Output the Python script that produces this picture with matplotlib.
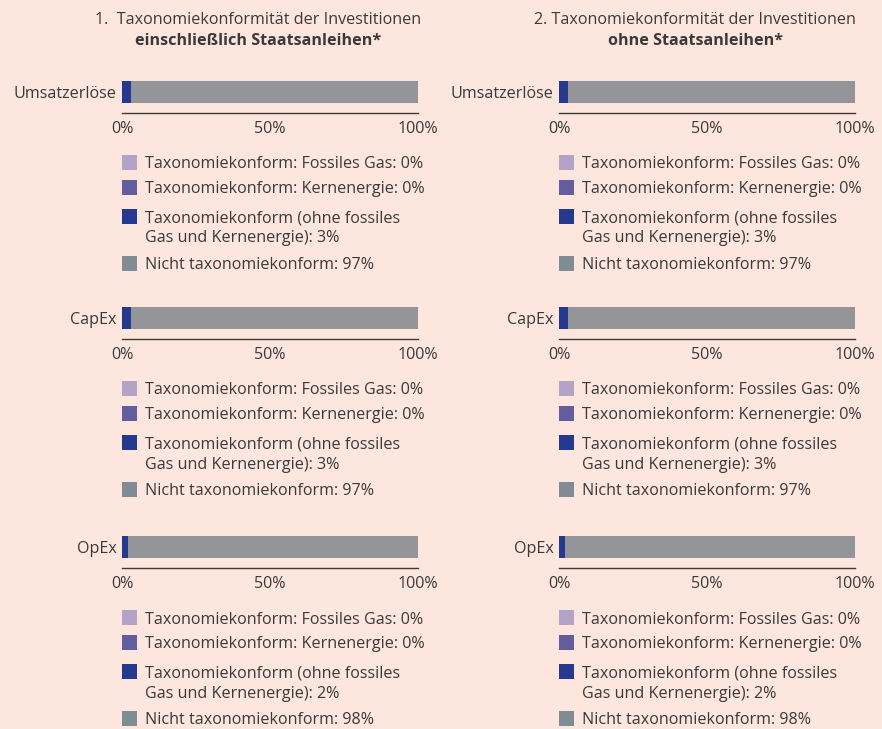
import matplotlib
matplotlib.use("Agg")
from matplotlib import pyplot as plt
from matplotlib.patches import Rectangle

plt.rcParams['font.family'] = ['Open Sans', 'DejaVu Sans']

# Daten
kategorien = ["Umsatzerlöse", "CapEx", "OpEx"]
legende_namen = ["Taxonomiekonform: Fossiles Gas",
                 "Taxonomiekonform: Kernenergie",
                 "Taxonomiekonform (ohne fossiles\nGas und Kernenergie)",
                 "Nicht taxonomiekonform"]
# Werte je Panel: [Fossiles Gas, Kernenergie, ohne Gas/Kern, nicht konform]
werte_mit = [[0, 0, 3, 97], [0, 0, 3, 97], [0, 0, 2, 98]]
werte_ohne = [[0, 0, 3, 97], [0, 0, 3, 97], [0, 0, 2, 98]]
titel_1 = ["1.  Taxonomiekonformität der Investitionen", "einschließlich Staatsanleihen*"]
titel_2 = ["2. Taxonomiekonformität der Investitionen", "ohne Staatsanleihen*"]
x_ticks = [0, 50, 100]

farben_bar = ["#b3a3c6", "#625e9e", "#253a8e", "#939598"]
farben_leg = ["#b3a3c6", "#625e9e", "#253a8e", "#7f8c94"]
bg = "#fde6dd"
tc = "#3a3a3a"

W, H = 882, 729
fig = plt.figure(figsize=(W / 100, H / 100), dpi=100, facecolor=bg)


def fx(px):
    return px / W


def fy(py):
    return 1 - py / H


fs = 11.6
bar_mitte = [92, 318, 547]
panels = [(122, titel_1, werte_mit), (559, titel_2, werte_ohne)]

for x0, titel, werte in panels:
    fig.text(fx(x0 + 136), fy(20), titel[0], ha="center", va="center", fontsize=fs, color=tc)
    fig.text(fx(x0 + 136), fy(41), titel[1], ha="center", va="center", fontsize=fs,
             color=tc, fontweight="bold")
    for i, kat in enumerate(kategorien):
        yc = bar_mitte[i]
        # axes: top at yc-17, bottom (axis line) at yc+21
        ax = fig.add_axes([fx(x0), fy(yc + 21), fx(296), (38) / H])
        ax.set_facecolor("none")
        links = 0
        for v, c in zip(werte[i], farben_bar):
            ax.barh(0, v, left=links, height=1, color=c)
            links += v
        ax.set_xlim(0, 100)
        ax.set_ylim(-0.5 - 10 / 22, 0.5 + 6 / 22)
        ax.set_yticks([0])
        ax.set_yticklabels([kat], fontsize=fs, color=tc)
        ax.set_xticks(x_ticks)
        ax.set_xticklabels([f"{t}%" for t in x_ticks], fontsize=fs, color=tc)
        ax.tick_params(length=0, pad=6)
        ax.tick_params(axis="y", pad=4)
        for s in ["top", "right", "left"]:
            ax.spines[s].set_visible(False)
        ax.spines["bottom"].set_color("#3a3a3a")
        ax.spines["bottom"].set_linewidth(1.0)

        # Legende
        zeilen = [yc + 70.5, yc + 95, yc + 124.5, yc + 171]
        for j, (name, c) in enumerate(zip(legende_namen, farben_leg)):
            ym = zeilen[j]
            fig.patches.append(Rectangle((fx(x0), fy(ym + 7.5)), fx(15), 15 / H,
                                         facecolor=c, edgecolor="none",
                                         transform=fig.transFigure, figure=fig))
            teile = f"{name}: {werte[i][j]}%".split("\n")
            for k, teil in enumerate(teile):
                fig.text(fx(x0 + 23), fy(ym + 6 + 20 * k), teil, ha="left", va="baseline",
                         fontsize=fs, color=tc)

fig.savefig("out.png", dpi=100, facecolor=bg)
